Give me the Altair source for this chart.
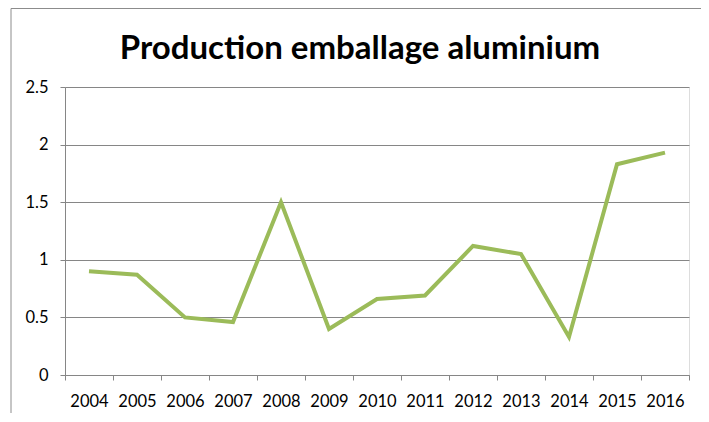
import altair as alt
import pandas as pd

title_text = "Production emballage aluminium"
years = ["2004", "2005", "2006", "2007", "2008", "2009", "2010",
         "2011", "2012", "2013", "2014", "2015", "2016"]
values = [0.90, 0.87, 0.50, 0.46, 1.50, 0.40, 0.66, 0.69, 1.12, 1.05, 0.33, 1.83, 1.93]
y_ticks = [0, 0.5, 1, 1.5, 2, 2.5]

df = pd.DataFrame({"year": years, "value": values})

AXIS_GRAY = "#868686"
LABEL_FONT = "Lato"

line = alt.Chart(df).mark_line(color="#9BBB59", strokeWidth=4).encode(
    x=alt.X("year:O", title=None,
            scale=alt.Scale(type="band", paddingInner=0, paddingOuter=0),
            axis=alt.Axis(tickBand="extent", labelAngle=0, grid=False,
                          domainColor=AXIS_GRAY, tickColor=AXIS_GRAY,
                          tickSize=5, labelPadding=13, labelFont=LABEL_FONT,
                          labelFontSize=16.5, labelColor="#000000")),
    y=alt.Y("value:Q", title=None,
            scale=alt.Scale(domain=[0, 2.5], nice=False, zero=True),
            axis=alt.Axis(values=y_ticks, format=".1~f", grid=True,
                          gridColor=AXIS_GRAY, gridWidth=1,
                          domainColor=AXIS_GRAY, tickColor=AXIS_GRAY,
                          tickSize=5, labelPadding=12, labelFont=LABEL_FONT,
                          labelFontSize=16.5, labelColor="#000000")),
)

frame_data = pd.DataFrame({"k": [0]})
top_border = alt.Chart(frame_data).mark_rule(color="#8c8c8c", strokeWidth=1, clip=False).encode(
    x=alt.value(-54), x2=alt.value(640), y=alt.value(-78.5)
)
left_border = alt.Chart(frame_data).mark_rule(color="#8c8c8c", strokeWidth=1, clip=False).encode(
    x=alt.value(-54), y=alt.value(-78.5), y2=alt.value(340)
)

title = alt.Chart(pd.DataFrame({"t": [title_text]})).mark_text(
    font="Lato", fontSize=33, fontWeight="bold",
    baseline="alphabetic", align="center", color="#000000"
).encode(text="t:N", x=alt.value(295), y=alt.value(-28))

chart = alt.layer(line, top_border, left_border, title).properties(
    width=624, height=288,
    autosize=alt.AutoSizeParams(type="none"),
    padding={"left": 57, "top": 79, "right": 12, "bottom": 38},
).configure_view(strokeOpacity=0).configure(background="#ffffff")

chart.save("out.html", embed_options={"renderer": "svg", "actions": False})
